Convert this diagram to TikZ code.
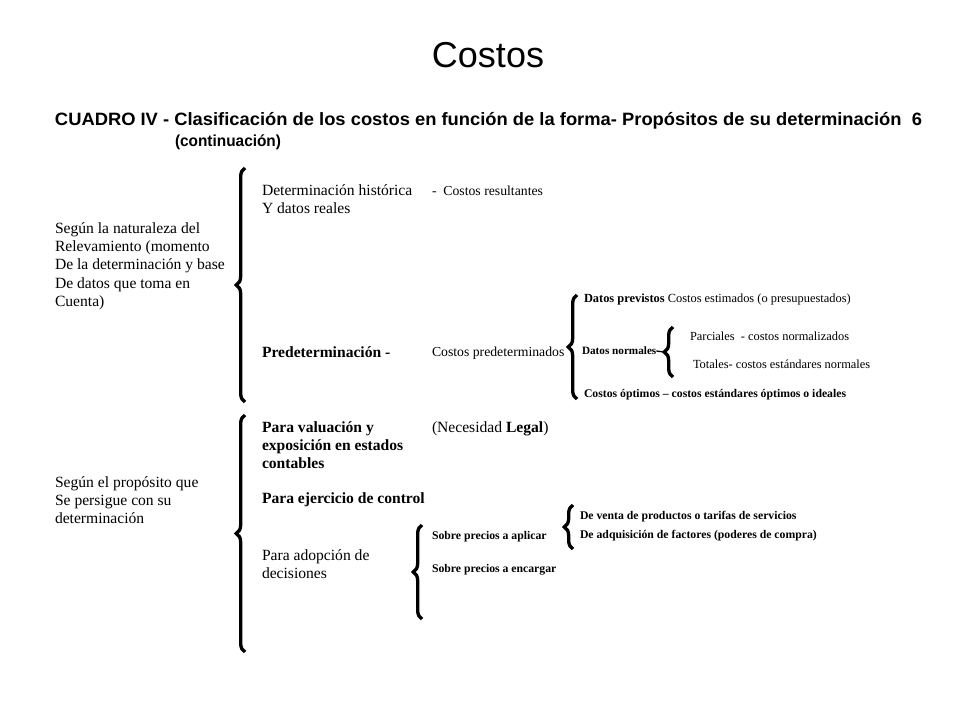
\documentclass[tikz,border=0pt]{standalone}
\usepackage{fontspec}
\setmainfont{Liberation Serif}
\newfontfamily\arialf{Liberation Sans}
\usetikzlibrary{decorations.pathreplacing}
\begin{document}
\begin{tikzpicture}[x=0.75pt,y=-0.75pt,
 txt/.style={anchor=base west,inner sep=0pt,outer sep=0pt},
 big/.style={txt,font=\fontsize{11.7}{14}\selectfont},
 med/.style={txt,font=\fontsize{10.3}{12}\selectfont},
 sml/.style={txt,font=\fontsize{8.8}{11}\selectfont},
 smr/.style={txt,font=\fontsize{9.3}{11}\selectfont},
 brc/.style={decorate,decoration={brace,amplitude=6.5pt},line width=2.5pt},
]
\useasboundingbox[fill=white] (0,0) rectangle (960,720);
% title
\node[anchor=base,inner sep=0pt] (title) at (488,68) {\arialf\fontsize{27}{32}\selectfont Costos};
\node[txt] (hdr) at (55,126) {\arialf\bfseries\fontsize{13.4}{16}\selectfont\resizebox{650.25pt}{\height}{CUADRO IV - Clasificación de los costos en función de la forma- Propósitos de su determinación\ \ 6}};
\node[txt] (hdr2) at (175,147) {\arialf\bfseries\fontsize{12}{14}\selectfont\resizebox{79.5pt}{\height}{(continuación)}};
% section 1
\node[big] (l1a) at (55,234) {Según la naturaleza del};
\node[big] (l1b) at (55,252) {Relevamiento (momento};
\node[big] (l1c) at (55,270) {De la determinación y base};
\node[big] (l1d) at (55,288) {De datos que toma en};
\node[big] (l1e) at (55,306) {Cuenta)};
\coordinate (b1t) at (245,168);
\coordinate (b1b) at (245,402);
\draw[brc] (b1b) -- (b1t);
\node[big] (dh) at (262,196) {Determinación histórica};
\node[big] (dr) at (262,214) {Y datos reales};
\node[med] (cr) at (432,196) {-\ \ Costos resultantes};
\node[big] (pre) at (262,357) {\bfseries Predeterminación -};
\node[med] (cp) at (432,356) {Costos predeterminados};
\coordinate (b2t) at (577,295);
\coordinate (b2b) at (577,399);
\draw[brc] (b2b) -- (b2t);
\node[smr] (dp) at (584,302) {\textbf{Datos previstos} Costos estimados (o presupuestados)};
\node[sml,font=\fontsize{8.4}{10}\selectfont] (dn) at (582,354) {\bfseries Datos normales};
\coordinate (b3t) at (673,327);
\coordinate (b3b) at (673,377);
\coordinate (b3m) at (664,352);
\draw[brc] (b3b) -- (b3t);
\draw[line width=1pt] (dn.base east) ++(0,-3) coordinate (dne) -- (b3m);
\node[smr] (pa) at (690,340) {Parciales\ \ - costos normalizados};
\node[smr] (to) at (693,368) {Totales- costos\ estándares normales};
\node[sml] (co) at (584,397) {\bfseries Costos óptimos – costos estándares óptimos o ideales};
% section 2
\node[big] (l2a) at (55,487) {Según el propósito que};
\node[big] (l2b) at (55,505) {Se persigue con su};
\node[big] (l2c) at (55,523) {determinación};
\coordinate (b4t) at (245,415);
\coordinate (b4b) at (245,652);
\draw[brc] (b4b) -- (b4t);
\node[big] (pv1) at (262,432) {\bfseries Para valuación y};
\node[big] (pv2) at (262,450) {\bfseries exposición en estados};
\node[big] (pv3) at (262,468) {\bfseries contables};
\node[big] (nl) at (432,432) {(Necesidad \textbf{Legal})};
\node[big] (pe) at (262,503) {\bfseries Para ejercicio de control};
\node[big] (pd1) at (262,560) {Para adopción de};
\node[big] (pd2) at (262,578) {decisiones};
\coordinate (b5t) at (422,525);
\coordinate (b5b) at (422,619);
\draw[brc] (b5b) -- (b5t);
\node[sml] (sa) at (432,539) {\bfseries Sobre precios a aplicar};
\node[sml] (se) at (432,572) {\bfseries Sobre precios a encargar};
\coordinate (b6t) at (573,505);
\coordinate (b6b) at (573,549);
\draw[brc] (b6b) -- (b6t);
\node[sml] (dv) at (580,519) {\bfseries De venta de productos o tarifas de servicios};
\node[sml] (da) at (580,538) {\bfseries De adquisición de factores (poderes de compra)};
\end{tikzpicture}
\end{document}
